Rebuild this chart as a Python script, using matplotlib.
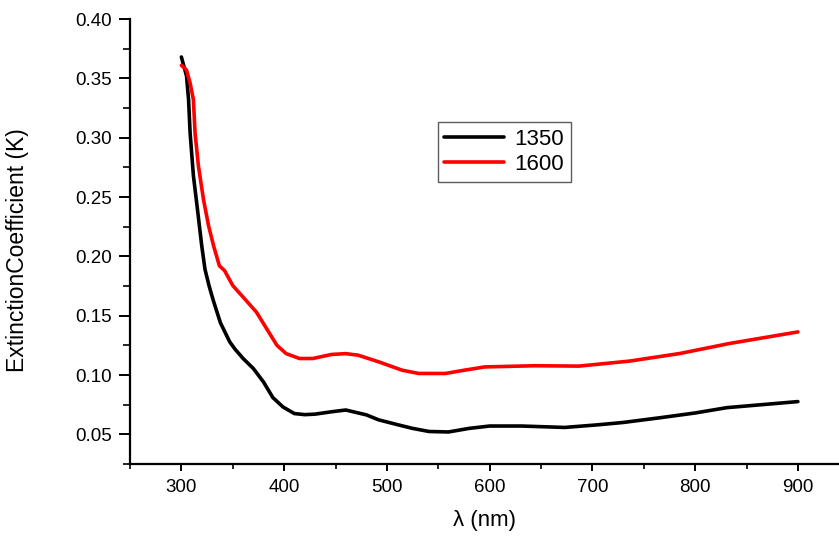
import matplotlib
matplotlib.use('Agg')
import matplotlib.pyplot as plt
from matplotlib.ticker import MultipleLocator, FormatStrFormatter

plt.rcParams['font.family'] = ['Liberation Sans', 'DejaVu Sans']

# wavelength (nm) and extinction coefficient
wl_1350 = [300, 305, 307, 308.5, 311.7, 315.6, 319.8, 323, 327, 331, 338, 347,
           352, 360, 370, 380, 389, 399, 410, 420, 430, 446, 460, 480, 492, 511,
           525, 541, 560, 580, 600, 631, 673, 705, 730, 766, 800, 831, 865, 900]
k_1350 = [0.368, 0.352, 0.332, 0.304, 0.268, 0.240, 0.209, 0.189, 0.175, 0.163,
          0.144, 0.128, 0.122, 0.114, 0.1055, 0.094, 0.081, 0.073, 0.0675,
          0.0666, 0.067, 0.069, 0.0705, 0.0664, 0.0622, 0.058, 0.055, 0.0524,
          0.052, 0.055, 0.057, 0.057, 0.0558, 0.058, 0.060, 0.064, 0.068,
          0.0725, 0.075, 0.0776]

wl_1600 = [300, 305, 308.5, 311.7, 313.3, 316.6, 321.5, 326.4, 331.3, 337, 342,
           350, 363, 373, 383, 393, 402, 415, 428, 446, 460, 472, 492, 515, 531,
           557, 575, 595, 644, 687, 736, 785, 833, 900]
k_1600 = [0.361, 0.357, 0.346, 0.332, 0.304, 0.276, 0.248, 0.226, 0.209, 0.192,
          0.188, 0.1754, 0.1628, 0.153, 0.139, 0.125, 0.118, 0.1139, 0.1139,
          0.1173, 0.118, 0.1167, 0.1111, 0.104, 0.1013, 0.1013, 0.104, 0.1068,
          0.1078, 0.1075, 0.1117, 0.1181, 0.1265, 0.1363]

fig = plt.figure(figsize=(8.39, 5.38), dpi=100)
ax = fig.add_axes([130 / 839, 74 / 538, 709 / 839, 445 / 538])

ax.plot(wl_1350, k_1350, color='black', lw=2.6, label='1350',
        solid_joinstyle='round', solid_capstyle='round')
ax.plot(wl_1600, k_1600, color='#ff0000', lw=2.6, label='1600',
        solid_joinstyle='round', solid_capstyle='round')

ax.set_xlim(250, 940)
ax.set_ylim(0.025, 0.40)

for side in ['top', 'right']:
    ax.spines[side].set_visible(False)
for side in ['left', 'bottom']:
    ax.spines[side].set_linewidth(1.6)

ax.xaxis.set_major_locator(MultipleLocator(100))
ax.xaxis.set_minor_locator(MultipleLocator(50))
ax.yaxis.set_major_locator(MultipleLocator(0.05))
ax.yaxis.set_minor_locator(MultipleLocator(0.025))
ax.yaxis.set_major_formatter(FormatStrFormatter('%.2f'))

ax.tick_params(axis='y', which='major', direction='out', length=8, width=1.4,
               labelsize=13.5, pad=5)
ax.tick_params(axis='y', which='minor', direction='out', length=5, width=1.2)
ax.tick_params(axis='x', which='major', direction='out', length=5, width=1.4,
               labelsize=13.5, pad=6)
ax.tick_params(axis='x', which='minor', direction='out', length=3.5, width=1.2)

ax.set_xlabel('λ (nm)', fontsize=16, labelpad=10)
ax.set_ylabel('ExtinctionCoefficient (K)', fontsize=16.5)
ax.yaxis.set_label_coords(-0.143, 0.48)

leg = ax.legend(loc='upper left', bbox_to_anchor=(0.434, 0.768), fontsize=16,
                frameon=True, fancybox=False, handlelength=2.7,
                borderpad=0.3, labelspacing=0.18, handletextpad=0.45,
                borderaxespad=0)
leg.get_frame().set_edgecolor('#333333')
leg.get_frame().set_linewidth(1.0)

fig.savefig('out.png', dpi=100)
